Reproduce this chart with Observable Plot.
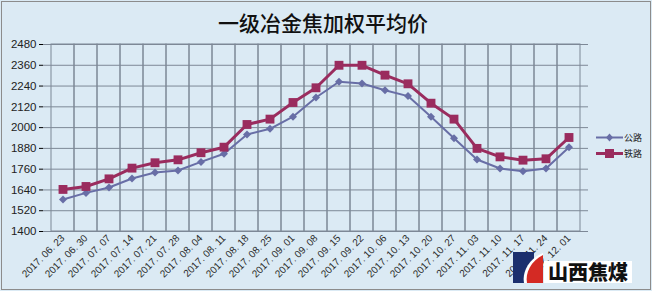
<!DOCTYPE html>
<html><head><meta charset="utf-8">
<script src="https://cdn.jsdelivr.net/npm/d3@7"></script>
<script src="https://cdn.jsdelivr.net/npm/@observablehq/plot@0.6"></script>
<style>
html,body{margin:0;padding:0;background:#dbeaf4;}
#wrap{position:relative;width:652px;height:291px;background:#dbeaf4;overflow:hidden;font-family:"Liberation Sans","Noto Sans CJK SC",sans-serif;}
#border{position:absolute;left:1px;top:1px;width:648px;height:287px;border:1px solid #8c8c8c;pointer-events:none;}
#title{position:absolute;left:0;width:646px;top:7px;text-align:center;font-family:"Noto Sans CJK SC",sans-serif;font-size:21px;font-weight:500;color:#111;letter-spacing:0px;}
#chart svg{position:absolute;left:0;top:0;}
#chart svg [aria-label^="y-axis"] text{font-size:11.5px;fill:#222;}
#chart svg [aria-label^="x-axis"] text{font-size:10px;fill:#2a2a2a;}
.leg{position:absolute;left:596px;font-family:"Noto Sans CJK SC",sans-serif;font-size:9px;color:#222;display:flex;align-items:center;}
#logo{position:absolute;left:512px;top:251px;}
#logotext{position:absolute;left:544px;top:261px;width:88px;height:22px;background:#fff;font-family:"Noto Sans CJK SC",sans-serif;font-weight:900;font-size:20px;line-height:22px;color:#111;letter-spacing:0px;padding-left:4px;box-sizing:border-box;}
</style></head>
<body>
<div id="wrap">
  <div id="chart"></div>
  <div id="title"></div>
  <div id="leg1" class="leg"></div>
  <div id="leg2" class="leg"></div>
  <div id="logotext">山西焦煤</div>
  <svg id="logo" width="34" height="33" viewBox="0 0 34 33">
    <rect x="1" y="1" width="21" height="31" fill="#1b2f6e"/>
    <path d="M12,32 C10,22 16,8 31,2 L31,32 Z" fill="#ffffff"/>
    <path d="M15,32 C13,22 19,10 31,4 L31,32 Z" fill="#d42a24"/>
  </svg>
  <div id="border"></div>
</div>
<script>
const titleText = "一级冶金焦加权平均价";
const seriesNames = ["公路", "铁路"];
const dates = ["2017. 06. 23","2017. 06. 30","2017. 07. 07","2017. 07. 14","2017. 07. 21","2017. 07. 28",
  "2017. 08. 04","2017. 08. 11","2017. 08. 18","2017. 08. 25","2017. 09. 01","2017. 09. 08","2017. 09. 15",
  "2017. 09. 22","2017. 10. 06","2017. 10. 13","2017. 10. 20","2017. 10. 27","2017. 11. 03","2017. 11. 10",
  "2017. 11. 17","2017. 11. 24","2017. 12. 01"];
const highway = [1585,1623,1654,1706,1741,1752,1802,1849,1960,1993,2063,2174,2265,2255,2216,2182,2063,1939,1816,1764,1748,1764,1887];
const railway = [1643,1660,1704,1766,1797,1814,1855,1887,2018,2049,2145,2230,2360,2360,2303,2253,2141,2049,1880,1831,1812,1820,1943];
const yTicks = [1400,1520,1640,1760,1880,2000,2120,2240,2360,2480];
const colors = ["#686ea6", "#9a2c5e"];

document.getElementById("title").textContent = titleText;

const hw = dates.map((d, i) => ({date: d, v: highway[i]}));
const rw = dates.map((d, i) => ({date: d, v: railway[i]}));
const grid = "#7d8896";

const chart = Plot.plot({
  width: 652, height: 291,
  marginLeft: 43, marginRight: 64, marginTop: 44, marginBottom: 60,
  style: {background: "transparent", fontFamily: "Liberation Sans, sans-serif", overflow: "visible"},
  x: {type: "band", domain: dates, padding: 0, label: null, tickRotate: -45, tickSize: 0, tickPadding: 5},
  y: {domain: [1400, 2480], ticks: yTicks, label: null, tickSize: 4, tickPadding: 3, tickFormat: d => String(d)},
  marks: [
    Plot.cell(dates, {x: d => d, fill: "none", stroke: grid, strokeWidth: 1}),
    Plot.ruleY(yTicks, {stroke: grid, strokeWidth: 1}),
    Plot.line(hw, {x: "date", y: "v", stroke: colors[0], strokeWidth: 2}),
    Plot.dot(hw, {x: "date", y: "v", symbol: "diamond2", r: 3.6, fill: colors[0], stroke: "none"}),
    Plot.line(rw, {x: "date", y: "v", stroke: colors[1], strokeWidth: 3}),
    Plot.dot(rw, {x: "date", y: "v", symbol: "square", r: 5, fill: colors[1], stroke: "none"})
  ]
});
document.getElementById("chart").appendChild(chart);

function legend(id, top, color, shape, name, lw) {
  const el = document.getElementById(id);
  el.style.top = top + "px";
  const mk = shape === "square"
    ? `<rect x="9" y="3" width="9" height="9" fill="${color}"/>`
    : `<path d="M13.5,3.5 L17,7.5 L13.5,11.5 L10,7.5 Z" fill="${color}"/>`;
  el.innerHTML = `<svg width="27" height="15"><line x1="0" y1="7.5" x2="27" y2="7.5" stroke="${color}" stroke-width="${lw}"/>${mk}</svg><span style="margin-left:1px">${name}</span>`;
}
legend("leg1", 129.5, colors[0], "diamond", seriesNames[0], 2);
legend("leg2", 145.5, colors[1], "square", seriesNames[1], 3);
</script>
</body></html>
